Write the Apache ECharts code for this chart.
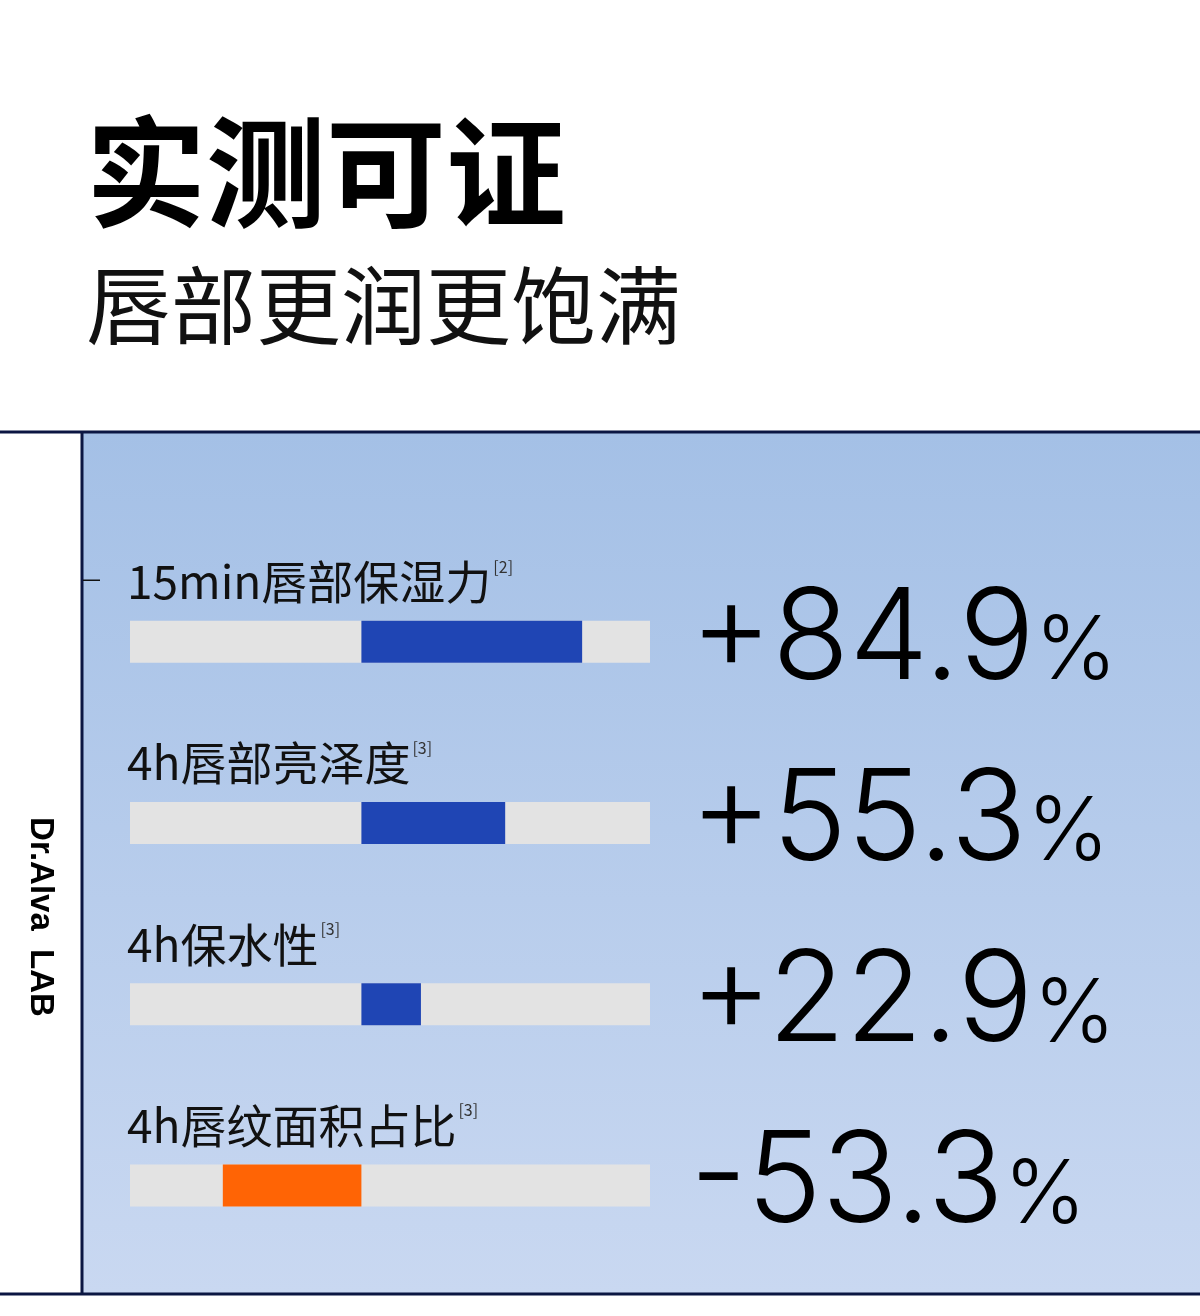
<!DOCTYPE html>
<html>
<head>
<meta charset="utf-8">
<script src="https://cdn.jsdelivr.net/npm/echarts@6/dist/echarts.min.js"></script>
<style>
html,body{margin:0;padding:0;background:#fff;}
#c{width:1200px;height:1316px;}
</style>
</head>
<body>
<div id="c"></div>
<script>
var titleText = '实测可证';
var subtitleText = '唇部更润更饱满';
var brandText = 'Dr.Alva  LAB';
var categories = ['15min唇部保湿力', '4h唇部亮泽度', '4h保水性', '4h唇纹面积占比'];
var notes = ['[2]', '[3]', '[3]', '[3]'];
var values = [84.9, 55.3, 22.9, -53.3];

var chart = echarts.init(document.getElementById('c'), null, {renderer: 'canvas'});
var CJK = '"Noto Sans CJK SC", "Noto Sans", sans-serif';
var NUM = 'Inter, "Noto Sans", sans-serif';

function fmtValue(v) {
  var n = Number(v);
  return (n >= 0 ? '+' : '-') + Math.abs(n).toFixed(1);
}

var option = {
  backgroundColor: '#ffffff',
  animation: false,
  graphic: [
    {type: 'rect', z: -10, shape: {x: 83, y: 433, width: 1117, height: 861},
      style: {fill: new echarts.graphic.LinearGradient(0, 0, 0, 1, [
        {offset: 0, color: '#a4c0e6'}, {offset: 1, color: '#c9d8f1'}])}},
    {type: 'rect', z: 5, shape: {x: 0, y: 430.5, width: 1200, height: 3}, style: {fill: '#0b1642'}},
    {type: 'rect', z: 5, shape: {x: 0, y: 1292.5, width: 1200, height: 3}, style: {fill: '#0b1642'}},
    {type: 'rect', z: 5, shape: {x: 80.5, y: 432, width: 3, height: 862}, style: {fill: '#0b1642'}},
    {type: 'rect', z: 5, shape: {x: 83, y: 579.5, width: 17, height: 1.5}, style: {fill: '#111'}},
    {type: 'text', left: 86, top: 112, style: {text: titleText, font: 'bold 120px ' + CJK, fill: '#000'}},
    {type: 'text', left: 86, top: 263, style: {text: subtitleText, font: 'normal 85px ' + CJK, fill: '#111'}},
    {type: 'text', x: 40, y: 917, rotation: -Math.PI / 2,
      style: {text: brandText, font: 'bold 33px "Liberation Sans", Arial, sans-serif', fill: '#000',
        align: 'center', verticalAlign: 'middle'}}
  ],
  grid: {left: 130, width: 520, top: 551, height: 725, outerBoundsMode: 'none'},
  xAxis: {type: 'value', min: -89, max: 111, show: false},
  yAxis: [
    {
      type: 'category', data: categories, inverse: true,
      axisLine: {show: false}, axisTick: {show: false}, splitLine: {show: false},
      axisLabel: {
        inside: true, margin: -3, interval: 0, align: 'left',
        padding: [0, 0, 120, 0],
        formatter: function (v, i) { return '{a|' + v + '}{s|' + notes[i] + '}'; },
        rich: {
          a: {fontFamily: CJK, fontSize: 46, lineHeight: 46, color: '#111'},
          s: {fontFamily: CJK, fontSize: 16, lineHeight: 16, color: '#333', verticalAlign: 'top', padding: [0, 0, 0, 2]}
        }
      }
    },
    {
      type: 'category', data: values, inverse: true, position: 'right',
      axisLine: {show: false}, axisTick: {show: false}, splitLine: {show: false},
      axisLabel: {
        margin: 40, interval: 0, align: 'left',
        padding: [0, 0, 2, 0],
        formatter: function (v) { return '{n|' + fmtValue(v) + '}{p|%}'; },
        rich: {
          n: {fontFamily: NUM, fontSize: 126, lineHeight: 126, color: '#000', fontWeight: 300},
          p: {fontFamily: NUM, fontSize: 88, lineHeight: 114, color: '#000', fontWeight: 300, verticalAlign: 'bottom', padding: [0, 0, 7, 0]}
        }
      }
    }
  ],
  series: [{
    type: 'bar', data: values, yAxisIndex: 0, barWidth: 42,
    showBackground: true, backgroundStyle: {color: '#e3e3e3'},
    itemStyle: {color: function (p) { return p.value < 0 ? '#ff6405' : '#1f45b4'; }}
  }]
};
chart.setOption(option);
</script>
</body>
</html>
